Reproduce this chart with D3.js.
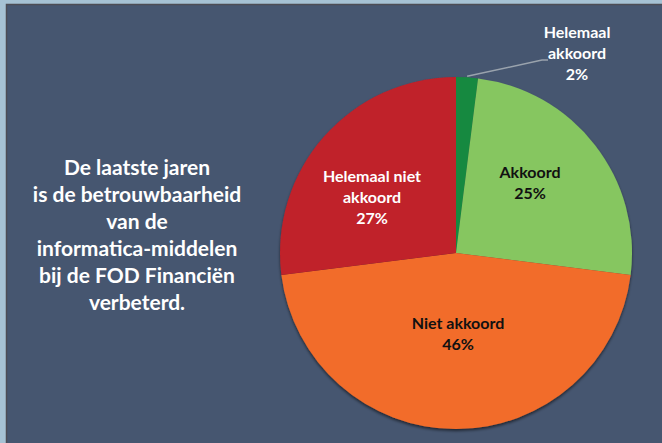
<!DOCTYPE html>
<html lang="nl">
<head>
    <meta charset="UTF-8">
    <title>Betrouwbaarheid informatica-middelen</title>
    <script src="https://d3js.org/d3.v7.min.js"></script>
    <style>
        html, body {
            margin: 0;
            padding: 0;
            background: #a6c2d4;
        }
        svg {
            display: block;
            font-family: 'Lato', 'Open Sans', sans-serif;
            font-weight: bold;
        }
    </style>
</head>
<body>
    <svg id="chart" width="662" height="443"></svg>

    <script>
        // gegevens uit de grafiek
        const categories = ["Helemaal akkoord", "Akkoord", "Niet akkoord", "Helemaal niet akkoord"];
        const values = [2, 25, 46, 27];
        const labelLines = [["Helemaal", "akkoord", "2%"], ["Akkoord", "25%"], ["Niet akkoord", "46%"], ["Helemaal niet", "akkoord", "27%"]];
        const colors = ["#17893f", "#86c661", "#f26c29", "#c0202a"];
        const labelColors = ["#ffffff", "#111111", "#111111", "#ffffff"];
        const titleLines = ["De laatste jaren", "is de betrouwbaarheid", "van de", "informatica-middelen", "bij de FOD Financiën", "verbeterd."];

        const svg = d3.select("#chart");
        const width = +svg.attr("width");
        const height = +svg.attr("height");

        // schaduw voor de taart
        const defs = svg.append("defs");
        defs.append("filter")
            .attr("id", "shadow")
            .attr("x", "-10%").attr("y", "-10%")
            .attr("width", "120%").attr("height", "120%")
            .append("feDropShadow")
            .attr("dx", 0).attr("dy", 2)
            .attr("stdDeviation", 1.5)
            .attr("flood-color", "#000")
            .attr("flood-opacity", 0.55);

        // paneel
        svg.append("rect")
            .attr("x", 6).attr("y", 4)
            .attr("width", width - 6).attr("height", height - 4)
            .attr("fill", "#465670");
        svg.append("path")
            .attr("d", `M6.5,${height} V4.5 H${width}`)
            .attr("fill", "none")
            .attr("stroke", "#4d4d55")
            .attr("stroke-width", 1.5);

        // tekst links
        const title = svg.append("text")
            .attr("x", 137)
            .attr("y", 175)
            .attr("fill", "#ffffff")
            .attr("font-size", 21)
            .attr("text-anchor", "middle");
        title.selectAll("tspan")
            .data(titleLines)
            .enter()
            .append("tspan")
            .attr("x", 137)
            .attr("dy", (d, i) => i === 0 ? 0 : 27)
            .text(d => d);

        // taart
        const cx = 456, cy = 253, r = 176;
        const pie = d3.pie().sort(null).value(d => d)(values);
        const arc = d3.arc().innerRadius(0).outerRadius(r);

        const g = svg.append("g")
            .attr("transform", `translate(${cx},${cy})`);

        g.append("g")
            .attr("filter", "url(#shadow)")
            .selectAll("path")
            .data(pie)
            .enter()
            .append("path")
            .attr("d", arc)
            .attr("fill", (d, i) => colors[i]);

        // labelposities (t.o.v. middelpunt)
        const labelPos = [[121, -215], [74, -75], [2, 76], [-84, -71]];

        // verbindingslijn voor het kleine segment
        const small = pie[0];
        const mid = (small.startAngle + small.endAngle) / 2;
        const edge = [Math.sin(mid) * (r + 1), -Math.cos(mid) * (r + 1)];
        g.append("polyline")
            .attr("points", `${edge[0]},${edge[1]} ${labelPos[0][0] - 35},${-193} ${labelPos[0][0] - 29},${-193}`)
            .attr("fill", "none")
            .attr("stroke", "#9aa3ad")
            .attr("stroke-width", 1.5);

        const labels = g.selectAll(".label")
            .data(pie)
            .enter()
            .append("text")
            .attr("class", "label")
            .attr("text-anchor", "middle")
            .attr("font-size", 16)
            .attr("fill", (d, i) => labelColors[i])
            .attr("transform", (d, i) => `translate(${labelPos[i][0]},${labelPos[i][1]})`);

        labels.selectAll("tspan")
            .data((d, i) => labelLines[i])
            .enter()
            .append("tspan")
            .attr("x", 0)
            .attr("dy", (d, i) => i === 0 ? 0 : 21)
            .text(d => d);
    </script>
</body>
</html>
